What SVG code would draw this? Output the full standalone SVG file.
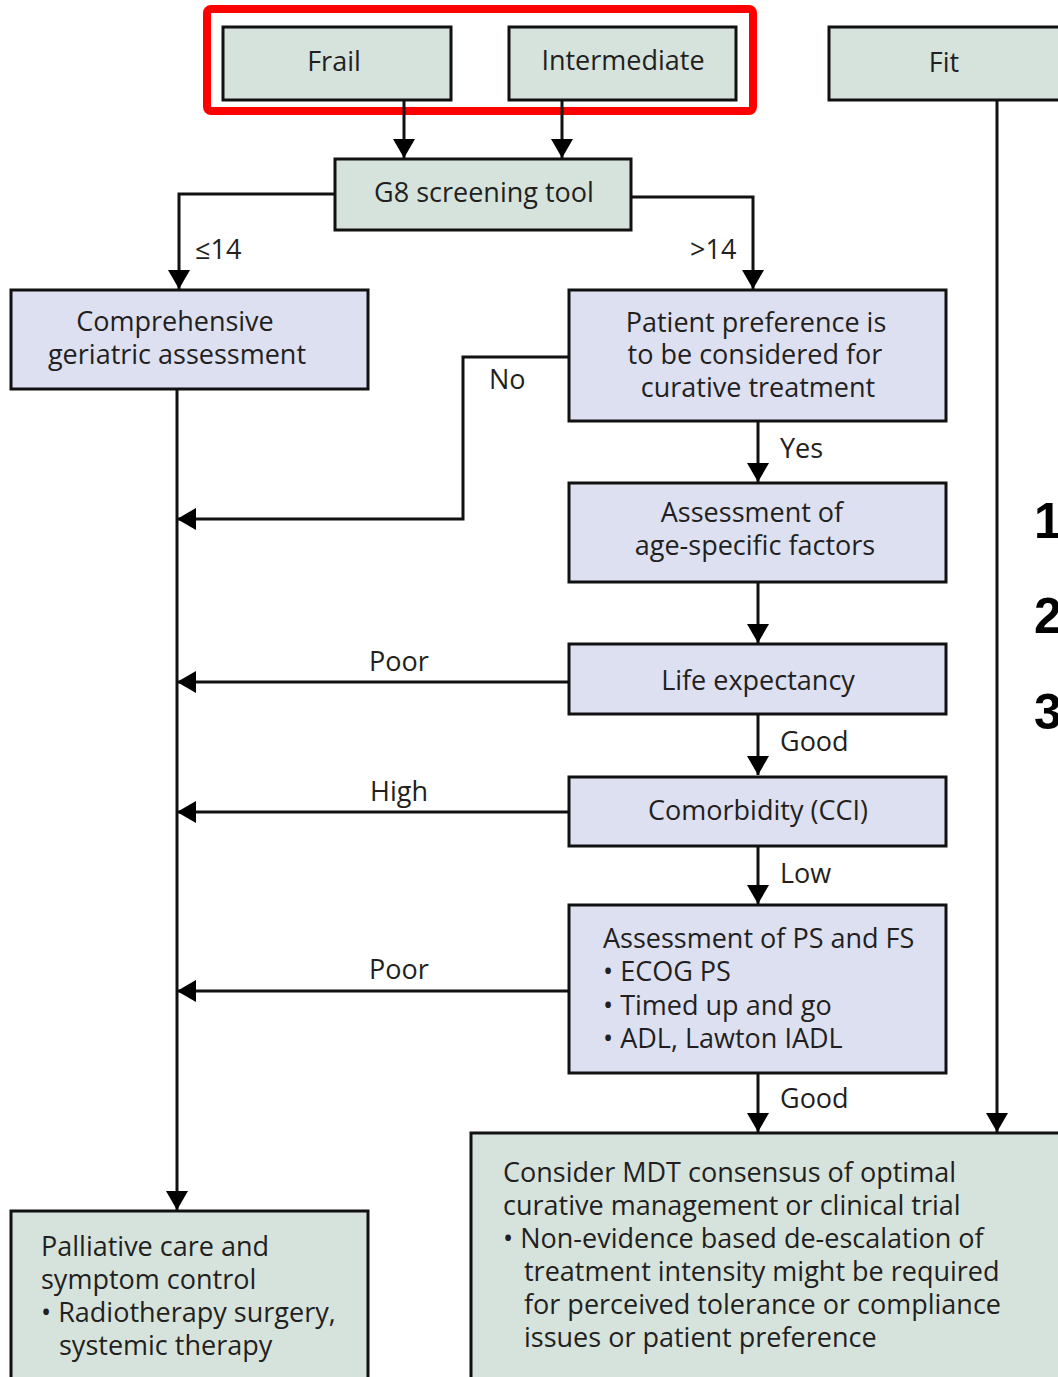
<svg xmlns="http://www.w3.org/2000/svg" width="1058" height="1377" viewBox="0 0 1058 1377">
<style>
.g{fill:#d6e3dc;stroke:#111;stroke-width:3}
.b{fill:#dde0f1;stroke:#111;stroke-width:3}
.t{font-family:"Open Sans","Noto Sans",sans-serif;font-size:27px;fill:#231f20}
.c{text-anchor:middle}
.ln{fill:none;stroke:#111;stroke-width:3}
.num{font-family:"Liberation Sans",Arial,sans-serif;font-size:50px;font-weight:bold;fill:#000}
</style>
<defs>
<marker id="ah" markerUnits="userSpaceOnUse" markerWidth="20" markerHeight="22" refX="19" refY="11" orient="auto">
<path d="M0,0 L19,11 L0,22 z" fill="#000"/>
</marker>
</defs>
<rect width="1058" height="1377" fill="#fff"/>
<rect x="207" y="9" width="546" height="102" rx="4" fill="none" stroke="#ff0000" stroke-width="8"/>
<g id="connectors">
<line class="ln" x1="404" y1="100" x2="404" y2="158" marker-end="url(#ah)"/>
<line class="ln" x1="562" y1="100" x2="562" y2="158" marker-end="url(#ah)"/>
<polyline class="ln" points="335,194 179,194 179,289" marker-end="url(#ah)"/>
<polyline class="ln" points="631,197 753,197 753,289" marker-end="url(#ah)"/>
<polyline class="ln" points="569,357 463,357 463,519 177,519" marker-end="url(#ah)"/>
<line class="ln" x1="758" y1="421" x2="758" y2="482" marker-end="url(#ah)"/>
<line class="ln" x1="758" y1="582" x2="758" y2="643" marker-end="url(#ah)"/>
<line class="ln" x1="569" y1="682" x2="177" y2="682" marker-end="url(#ah)"/>
<line class="ln" x1="758" y1="714" x2="758" y2="775" marker-end="url(#ah)"/>
<line class="ln" x1="569" y1="812" x2="177" y2="812" marker-end="url(#ah)"/>
<line class="ln" x1="758" y1="846" x2="758" y2="904" marker-end="url(#ah)"/>
<line class="ln" x1="569" y1="991" x2="177" y2="991" marker-end="url(#ah)"/>
<line class="ln" x1="758" y1="1073" x2="758" y2="1132" marker-end="url(#ah)"/>
<line class="ln" x1="997" y1="100" x2="997" y2="1132" marker-end="url(#ah)"/>
<line class="ln" x1="177" y1="389" x2="177" y2="1210" marker-end="url(#ah)"/>
<text class="t" x="195" y="259">≤14</text>
<text class="t" x="690" y="259">&gt;14</text>
<text class="t" x="489" y="389">No</text>
<text class="t" x="780" y="458">Yes</text>
<text class="t c" x="399" y="671">Poor</text>
<text class="t" x="780" y="751">Good</text>
<text class="t c" x="399" y="801">High</text>
<text class="t" x="780" y="883">Low</text>
<text class="t c" x="399" y="979">Poor</text>
<text class="t" x="780" y="1108">Good</text>
</g>
<g id="frail"><rect class="g" x="223" y="27" width="228" height="73"/><text class="t c" x="334" y="71">Frail</text></g>
<g id="intermediate"><rect class="g" x="509" y="27" width="227" height="73"/><text class="t c" x="623" y="70">Intermediate</text></g>
<g id="fit"><rect class="g" x="829" y="27" width="232" height="73"/><text class="t c" x="944" y="72">Fit</text></g>
<g id="g8"><rect class="g" x="335" y="159" width="296" height="71"/><text class="t c" x="484" y="202">G8 screening tool</text></g>
<g id="cga"><rect class="b" x="11" y="290" width="357" height="99"/><text class="t c" x="175" y="331">Comprehensive</text><text class="t c" x="177" y="364">geriatric assessment</text></g>
<g id="preference"><rect class="b" x="569" y="290" width="377" height="131"/><text class="t c" x="756" y="332">Patient preference is</text><text class="t c" x="755" y="364">to be considered for</text><text class="t c" x="758" y="397">curative treatment</text></g>
<g id="agefactors"><rect class="b" x="569" y="483" width="377" height="99"/><text class="t c" x="752" y="522">Assessment of</text><text class="t c" x="755" y="555">age-specific factors</text></g>
<g id="life"><rect class="b" x="569" y="644" width="377" height="70"/><text class="t c" x="758" y="690">Life expectancy</text></g>
<g id="comorbidity"><rect class="b" x="569" y="777" width="377" height="69"/><text class="t c" x="758" y="820">Comorbidity (CCI)</text></g>
<g id="psfs"><rect class="b" x="569" y="905" width="377" height="168"/>
<text class="t" x="603" y="948">Assessment of PS and FS</text>
<text class="t" x="603" y="981">• ECOG PS</text>
<text class="t" x="603" y="1015">• Timed up and go</text>
<text class="t" x="603" y="1048">• ADL, Lawton IADL</text></g>
<g id="mdt"><rect class="g" x="471" y="1133" width="592" height="250"/>
<text class="t" x="503" y="1182">Consider MDT consensus of optimal</text>
<text class="t" x="503" y="1215">curative management or clinical trial</text>
<text class="t" x="503" y="1248">• Non-evidence based de-escalation of</text>
<text class="t" x="524" y="1281">treatment intensity might be required</text>
<text class="t" x="524" y="1314">for perceived tolerance or compliance</text>
<text class="t" x="524" y="1347">issues or patient preference</text></g>
<g id="palliative"><rect class="g" x="11" y="1211" width="357" height="172"/>
<text class="t" x="41" y="1256">Palliative care and</text>
<text class="t" x="41" y="1289">symptom control</text>
<text class="t" x="41" y="1322">• Radiotherapy surgery,</text>
<text class="t" x="59" y="1355">systemic therapy</text></g>
<g id="numbers">
<text class="num" x="1034" y="538">1</text>
<text class="num" x="1034" y="633">2</text>
<text class="num" x="1034" y="729">3</text>
</g>
</svg>
